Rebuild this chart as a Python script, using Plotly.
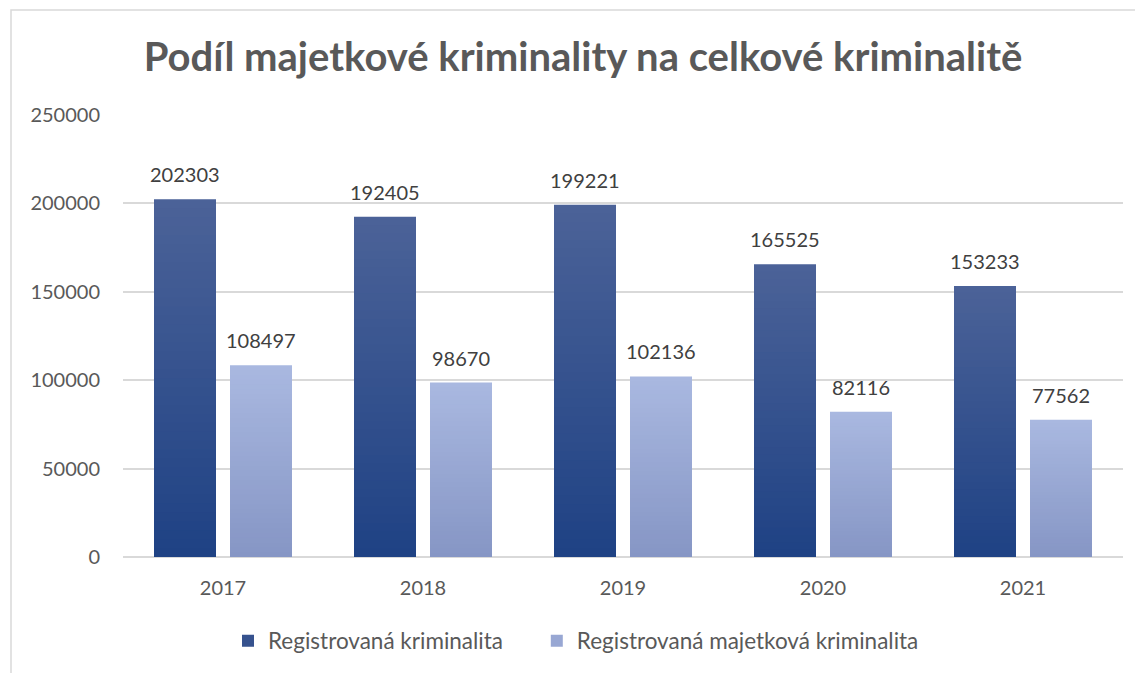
import plotly.graph_objects as go

years = ["2017", "2018", "2019", "2020", "2021"]
total_crime = [202303, 192405, 199221, 165525, 153233]
property_crime = [108497, 98670, 102136, 82116, 77562]
series_names = ["Registrovaná kriminalita", "Registrovaná majetková kriminalita"]
title_text = "Podíl majetkové kriminality na celkové kriminalitě"

# gradient colours (bottom, top) per series
grad = [((0x1F, 0x42, 0x84), (0x4B, 0x62, 0x98)),
        ((0x86, 0x96, 0xC5), (0xA9, 0xB8, 0xE0))]
offsets = [-0.345, 0.035]
W = 0.31
N = 40
legend_pad = ["\u00a0" * 5, ""]

def lerp(c0, c1, t):
    return "rgb(%d,%d,%d)" % tuple(round(a + (b - a) * t) for a, b in zip(c0, c1))

fig = go.Figure()
for s, vals in enumerate([total_crime, property_crime]):
    c0, c1 = grad[s]
    for i in range(N):
        t = i / (N - 1)
        bases = [v * i / N for v in vals]
        heights = [min(v / N * 1.6, v - b) for v, b in zip(vals, bases)]
        fig.add_trace(go.Bar(
            x=years, y=heights, base=bases,
            width=W, offset=offsets[s],
            marker=dict(color=lerp(c0, c1, t), line=dict(width=0)),
            name=series_names[s] + legend_pad[s],
            showlegend=(i == N // 2),
            legendrank=s + 1,
            hoverinfo="skip",
        ))

anns = []
for s, vals in enumerate([total_crime, property_crime]):
    for k, v in enumerate(vals):
        anns.append(dict(
            x=k + offsets[s] + W / 2, y=v, text=str(v), showarrow=False,
            yshift=11, xref="x", yref="y",
            yanchor="bottom", font=dict(family="Lato", size=20, color="#404040"),
        ))

PW = 1000
PH = 442
fig.update_layout(
    width=1143, height=673,
    margin=dict(l=115, r=28, t=107, b=124),
    paper_bgcolor="white", plot_bgcolor="white",
    barmode="overlay",
    font=dict(family="Lato", size=20, color="#595959"),
    title=dict(text="<b>" + title_text + "</b>", x=(583 - 8 - 115) / PW, xref="paper",
               xanchor="center",
               y=1 - 49 / 673, yanchor="middle",
               font=dict(family="Lato", size=40, color="#595959")),
    xaxis=dict(type="category", range=[-0.5, 4.5], showgrid=False, showline=False,
               ticks="", ticklabelstandoff=17,
               tickfont=dict(size=20, color="#595959")),
    yaxis=dict(range=[0, 250000], dtick=50000, showgrid=True, gridcolor="#D9D9D9",
               gridwidth=1.5, zeroline=True, zerolinecolor="#D9D9D9", zerolinewidth=1.5,
               showline=False, ticks="", tickformat="d", ticklabelstandoff=22,
               tickfont=dict(size=20, color="#595959")),
    legend=dict(orientation="h", x=(228 - 123) / PW, xanchor="left", y=-84 / PH,
                yanchor="middle",
                font=dict(size=22.5, color="#595959"), traceorder="normal",
                itemwidth=30),
    annotations=anns,
    shapes=[dict(type="rect", xref="paper", yref="paper",
                 x0=(11 - 8 - 115) / PW, x1=1.05, y0=-0.4, y1=(549 - 2) / PH,
                 line=dict(color="#D9D9D9", width=1.5), layer="below")],
    showlegend=True,
)
fig.write_html("out.html")
